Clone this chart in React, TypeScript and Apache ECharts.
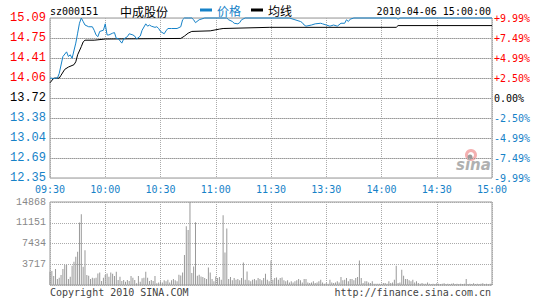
import React, { useEffect, useRef } from 'react';
import * as echarts from 'echarts';

const timeLabels = ['09:30', '10:00', '10:30', '11:00', '11:30', '13:30', '14:00', '14:30', '15:00'];
const priceTicks = [12.35, 12.6925, 13.035, 13.3775, 13.72, 14.0625, 14.405, 14.7475, 15.09];
const priceLabels = ['12.35', '12.69', '13.04', '13.38', '13.72', '14.06', '14.41', '14.75', '15.09'];
const pctLabels = ['-9.99%', '-7.49%', '-4.99%', '-2.50%', '0.00%', '+2.50%', '+4.99%', '+7.49%', '+9.99%'];
const volLabels = ['', '3717', '7434', '11151', '14868'];

const priceMinutes = [0, 1, 2, 3, 4, 5, 7, 9, 10, 11, 12, 14, 15, 16, 17, 18, 19, 21, 23, 24, 25, 26, 27, 29, 30, 31, 32, 34, 35, 36, 37, 39, 40, 42, 43, 45, 46, 47, 49, 50, 52, 53, 54, 55, 57, 58, 59, 60, 62, 63, 64, 66, 69, 71, 72, 73, 75, 77, 78, 79, 81, 84, 96, 97, 99, 100, 102, 103, 104, 106, 130, 133, 136, 137, 138, 139, 142, 144, 147, 148, 150, 152, 154, 156, 158, 160, 161, 162, 163, 165, 188, 189, 190, 240];
const priceValues = [14.06, 14.06, 14.05, 14.06, 14.06, 14.14, 14.43, 14.51, 14.43, 14.46, 14.40, 14.66, 14.83, 15.00, 15.09, 15.03, 14.97, 14.94, 14.94, 14.88, 14.80, 14.77, 14.86, 14.88, 14.99, 14.80, 14.80, 14.83, 14.84, 14.74, 14.74, 14.66, 14.73, 14.77, 14.82, 14.80, 14.78, 14.73, 14.78, 14.88, 14.99, 14.95, 14.97, 14.95, 14.93, 14.94, 14.91, 14.86, 14.82, 14.87, 14.91, 14.91, 14.91, 14.94, 15.06, 15.09, 15.09, 15.09, 15.06, 15.01, 15.06, 15.09, 15.09, 15.06, 15.03, 15.00, 14.99, 15.01, 15.06, 15.09, 15.09, 15.06, 15.03, 15.01, 14.97, 14.95, 14.97, 14.99, 15.00, 14.99, 14.97, 14.95, 14.97, 14.95, 15.00, 15.00, 15.06, 15.03, 15.07, 15.09, 15.09, 15.07, 15.09, 15.09];

const avgMinutes = [0, 2, 5, 6, 8, 10, 13, 14, 15, 17, 18, 19, 24, 30, 71, 73, 75, 77, 87, 92, 94, 119, 188, 189, 240];
const avgValues = [13.98, 14.06, 14.06, 14.11, 14.21, 14.25, 14.29, 14.34, 14.46, 14.60, 14.68, 14.71, 14.71, 14.73, 14.74, 14.78, 14.83, 14.86, 14.87, 14.90, 14.91, 14.93, 14.93, 14.96, 14.96];

const volumes = [
  2380, 2500, 1610, 2850, 1070, 1310, 1780, 2850, 3570, 3570,
  1070, 1490, 3450, 4160, 5050, 5940, 11180, 12660, 3270, 6240,
  1780, 1660, 1070, 1310, 1190, 1310, 2080, 2260, 710, 1310,
  1780, 2080, 1490, 2260, 2020, 1610, 2380, 890, 1490, 710,
  890, 590, 890, 710, 1610, 1310, 890, 300, 1610, 590,
  1190, 1310, 2380, 1310, 710, 890, 710, 1610, 300,
  470, 650, 470, 830, 650, 950, 470, 830, 1070, 830, 650, 1840, 1720, 2250, 5390, 10540, 9830, 14868, 2130, 3320, 11250, 1660, 1840, 1540, 1420, 1240, 1070,
  3140, 2250, 1070, 650, 1540, 1240, 1420, 950, 12490, 5800, 10120, 1070, 1420, 830, 1240, 950, 1070, 830, 1240,
  4030, 950, 2430, 830, 650, 950, 1070, 830, 1240, 1070, 830, 1240, 2010, 950, 650, 4380, 950,
  1240, 1360, 950, 1240, 1360, 830, 650, 830, 470, 650, 470, 650, 830, 1070, 830, 470, 1070,
  1070, 470, 360, 470, 650, 360, 470, 650, 950, 470, 240, 360, 240, 950, 470, 360, 470, 650,
  470, 1420, 830, 950, 1240, 650, 1070, 1070, 830, 1240, 1420,
  4380,
  1240, 360, 650, 650, 470, 360, 650, 240, 240, 240, 240, 240, 360, 360, 240, 650, 360, 470, 950,
  3430, 360, 470, 2720, 1660, 1070, 1070, 830, 650, 950, 470, 650, 360, 240, 360, 240, 240, 470, 240,
  180, 240, 180, 300, 240, 180, 240, 300, 180, 240, 180, 240, 300, 180, 240, 180, 240, 180, 240,
  1070,
  180, 240, 180, 300, 180, 240, 180, 240, 300, 180, 240, 180, 240, 180,
];

const BLUE = '#1682c8';
const RED = '#ff0000';
const MONO = 'DejaVu Sans Mono';

function tickIndex(v: number) {
  let best = 0;
  for (let i = 0; i < priceTicks.length; i++) {
    if (Math.abs(priceTicks[i] - v) < Math.abs(priceTicks[best] - v)) best = i;
  }
  return best;
}
function colorForIndex(i: number) {
  if (i === 4) return '#000';
  return i > 4 ? RED : BLUE;
}

export default function App() {
  const ref = useRef<HTMLDivElement>(null);
  useEffect(() => {
    const chart = echarts.init(ref.current!, null, { renderer: 'svg' });
    const dotted = { color: '#aaa', width: 1, type: [1, 1] as any };
    chart.setOption({
      animation: false,
      backgroundColor: '#fff',
      legend: {
        left: 200,
        top: 4,
        padding: 0,
        icon: 'rect',
        itemWidth: 12,
        itemHeight: 3,
        itemGap: 10,
        selectedMode: false,
        textStyle: { fontSize: 12, fontFamily: 'Noto Sans CJK SC', padding: [0, 0, 0, 0] },
        data: [
          { name: '价格', textStyle: { color: BLUE } },
          { name: '均线', textStyle: { color: '#000' } },
        ],
      },
      grid: [
        { left: 50, top: 18, width: 442, height: 160, show: true, borderColor: '#999', borderWidth: 1, backgroundColor: 'transparent' },
        { left: 50, top: 202, width: 442, height: 83, show: true, borderColor: '#999', borderWidth: 1, backgroundColor: 'transparent' },
      ],
      xAxis: [
        {
          type: 'value', gridIndex: 0, min: 0, max: 240, interval: 30,
          axisLine: { show: false }, axisTick: { show: false },
          splitLine: { show: true, lineStyle: dotted },
          axisLabel: {
            formatter: (v: number) => timeLabels[Math.round(v / 30)],
            color: BLUE, fontFamily: MONO, fontSize: 10, margin: 6,
          },
        },
        {
          type: 'value', gridIndex: 1, min: 0, max: 240, interval: 30,
          axisLine: { show: false }, axisTick: { show: false },
          splitLine: { show: true, lineStyle: dotted },
          axisLabel: { show: false },
        },
      ],
      yAxis: [
        {
          type: 'value', gridIndex: 0, min: priceTicks[0], max: priceTicks[8], position: 'left',
          axisLine: { show: false }, axisTick: { show: false },
          splitLine: { show: false },
          axisLabel: {
            customValues: priceTicks,
            formatter: (v: number) => priceLabels[tickIndex(v)],
            color: ((v: any) => colorForIndex(tickIndex(parseFloat(v)))) as any,
            fontFamily: 'Liberation Mono', fontSize: 12, margin: 4,
          },
        },
        {
          type: 'value', gridIndex: 0, min: 0, max: pctLabels.length - 1, interval: 1, position: 'right',
          axisLine: { show: false }, axisTick: { show: false },
          splitLine: { show: true, lineStyle: { color: '#c4c4c4', width: 1, type: 'solid' } },
          axisLabel: {
            formatter: (v: number) => pctLabels[Math.round(v)],
            color: ((v: any) => colorForIndex(Math.round(parseFloat(v)))) as any,
            fontFamily: MONO, fontSize: 10, margin: 2,
          },
        },
        {
          type: 'value', gridIndex: 1, min: 0, max: 14868, interval: 3717,
          axisLine: { show: false }, axisTick: { show: false },
          splitLine: { show: true, lineStyle: dotted },
          axisLabel: {
            formatter: (v: number) => volLabels[Math.round(v / 3717)],
            color: '#888', fontFamily: 'Liberation Mono', fontSize: 10, margin: 4,
          },
        },
      ],
      series: [
        {
          name: 'grid', type: 'custom', xAxisIndex: 0, yAxisIndex: 0, z: 1, silent: true,
          data: priceTicks.slice(1, priceTicks.length - 1).map((v) => [0, v]),
          renderItem: (params: any, api: any) => {
            const v = api.value(1);
            const p1 = api.coord([0, v]);
            const p2 = api.coord([240, v]);
            const y = Math.round(p1[1]) + 0.5;
            return {
              type: 'line',
              shape: { x1: p1[0], y1: y, x2: p2[0], y2: y },
              style: { stroke: '#999', lineWidth: 1, lineDash: [1, 1] },
            };
          },
        },
        {
          name: '均线', type: 'line', xAxisIndex: 0, yAxisIndex: 0,
          data: avgMinutes.map((m, i) => [m, avgValues[i]]),
          symbol: 'none', clip: false, z: 3,
          lineStyle: { color: '#000', width: 1 }, itemStyle: { color: '#000' },
        },
        {
          name: '价格', type: 'line', xAxisIndex: 0, yAxisIndex: 0,
          data: priceMinutes.map((m, i) => [m, priceValues[i]]),
          symbol: 'none', clip: false, z: 4,
          lineStyle: { color: BLUE, width: 1 }, itemStyle: { color: BLUE },
        },
        {
          name: '成交量', type: 'bar', xAxisIndex: 1, yAxisIndex: 2,
          data: volumes.map((v, i) => [i, v]),
          barWidth: 1, itemStyle: { color: '#999' },
        },
      ],
      graphic: [
        { type: 'text', x: 50, y: 11, style: { text: 'sz000151', fontFamily: MONO, fontSize: 10, fill: '#000', textVerticalAlign: 'middle', verticalAlign: 'middle' } },
        { type: 'text', x: 120, y: 11, style: { text: '中成股份', fontFamily: 'Noto Sans CJK SC', fontSize: 12, fill: '#000', textVerticalAlign: 'middle', verticalAlign: 'middle' } },
        { type: 'text', x: 491, y: 11, style: { text: '2010-04-06 15:00:00', fontFamily: MONO, fontSize: 10, fill: '#000', textAlign: 'right', align: 'right', textVerticalAlign: 'middle', verticalAlign: 'middle' } },
        { type: 'text', x: 50, y: 292, style: { text: 'Copyright 2010 SINA.COM', fontFamily: MONO, fontSize: 10, fill: '#444', textVerticalAlign: 'middle', verticalAlign: 'middle' } },
        { type: 'text', x: 491, y: 292, style: { text: 'http://finance.sina.com.cn', fontFamily: MONO, fontSize: 10, fill: '#444', textAlign: 'right', align: 'right', textVerticalAlign: 'middle', verticalAlign: 'middle' } },
        { type: 'ring', shape: { cx: 471, cy: 155, r: 6, r0: 3 }, style: { fill: '#f4b0b0' }, z: 1 },
        { type: 'circle', shape: { cx: 470, cy: 157, r: 2.5 }, style: { fill: '#999' }, z: 1 },
        { type: 'text', x: 456, y: 165, style: { text: 'sina', fontFamily: 'DejaVu Sans', fontSize: 15, fontWeight: 'bold', fontStyle: 'italic', fill: '#b0b0b0', textVerticalAlign: 'middle', verticalAlign: 'middle' }, z: 1 },
      ],
    });
    return () => chart.dispose();
  }, []);
  return <div ref={ref} style={{ position: 'fixed', left: 0, top: 0, width: 545, height: 300, background: '#fff' }} />;
}
